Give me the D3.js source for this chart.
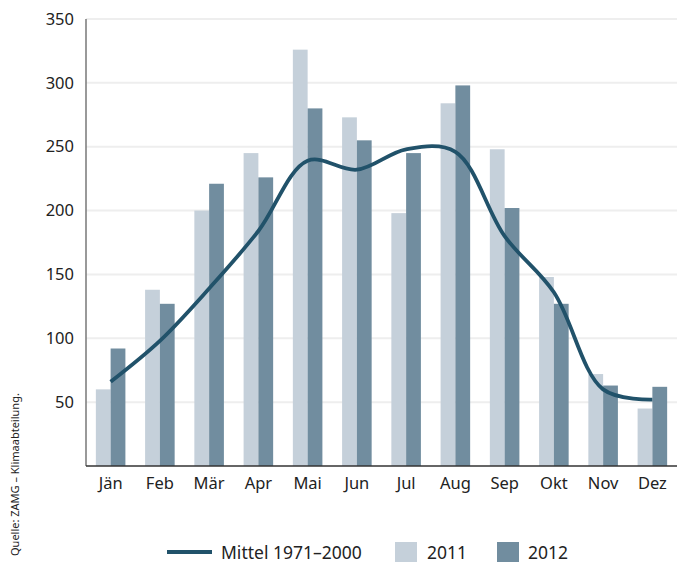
<!DOCTYPE html>
<html><head><meta charset="utf-8">
<script src="https://cdn.jsdelivr.net/npm/d3@7"></script>
<style>body{margin:0;background:#fff}svg{display:block}text{font-family:"Noto Sans",sans-serif;fill:#222}</style>
</head><body>
<script>
const months = ["Jän","Feb","Mär","Apr","Mai","Jun","Jul","Aug","Sep","Okt","Nov","Dez"];
const v2011 = [60,138,200,245,326,273,198,284,248,148,72,45];
const v2012 = [92,127,221,226,280,255,245,298,202,127,63,62];
const mittel = [66,98,139,184,239,232,248,246,180,136,60,52];
const yTicks = [50,100,150,200,250,300,350];
const legendLabels = ["Mittel 1971–2000","2011","2012"];
const source = "Quelle: ZAMG – Klimaabteilung.";

const W=677,H=562;
const svg=d3.select("body").append("svg").attr("width",W).attr("height",H);
const x=d3.scaleBand().domain(months).range([86,677]).paddingInner(0.4).paddingOuter(0.2);
const xs=d3.scaleBand().domain(["2011","2012"]).range([0,x.bandwidth()]);
const y=d3.scaleLinear().domain([0,350]).range([466,19]);

// grid
svg.append("g").selectAll("line").data(yTicks).join("line")
  .attr("x1",86).attr("x2",677).attr("y1",d=>y(d)).attr("y2",d=>y(d))
  .attr("stroke","#eeeeee").attr("stroke-width",2);

// bars
const g=svg.append("g");
g.selectAll(".b11").data(months).join("rect")
  .attr("x",d=>x(d)+xs("2011")).attr("width",xs.bandwidth())
  .attr("y",(d,i)=>y(v2011[i])).attr("height",(d,i)=>y(0)-y(v2011[i])).attr("fill","#c5d0da");
g.selectAll(".b12").data(months).join("rect")
  .attr("x",d=>x(d)+xs("2012")).attr("width",xs.bandwidth())
  .attr("y",(d,i)=>y(v2012[i])).attr("height",(d,i)=>y(0)-y(v2012[i])).attr("fill","#718d9f");

// line
const line=d3.line().x((d,i)=>x(months[i])+x.bandwidth()/2).y(d=>y(d)).curve(d3.curveCatmullRom.alpha(0.5));
svg.append("path").datum(mittel).attr("d",line).attr("fill","none").attr("stroke","#21526a").attr("stroke-width",3.8);

// axes
const ya=svg.append("g").attr("transform","translate(86,0)").call(d3.axisLeft(y).tickValues(yTicks).tickSize(0).tickPadding(12));
ya.select(".domain").remove();
ya.selectAll("text").style("font-size","16.5px").style("font-family","'Noto Sans',sans-serif").attr("fill","#222");
svg.append("line").attr("x1",86).attr("x2",86).attr("y1",19).attr("y2",466).attr("stroke","#777").attr("stroke-width",1.5);

const xa=svg.append("g").attr("transform","translate(0,466)").call(d3.axisBottom(x).tickSize(0).tickPadding(11));
xa.select(".domain").remove();
xa.selectAll("text").style("font-size","16.5px").style("font-family","'Noto Sans',sans-serif").attr("fill","#222");
svg.append("line").attr("x1",86).attr("x2",677).attr("y1",466).attr("y2",466).attr("stroke","#333").attr("stroke-width",1.5);

// source
svg.append("text").attr("transform","translate(19,556) rotate(-90)").style("font-size","11px").text(source);

// legend
const ly=552;
svg.append("line").attr("x1",167).attr("x2",212).attr("y1",ly).attr("y2",ly).attr("stroke","#21526a").attr("stroke-width",4);
svg.append("text").attr("x",221).attr("y",ly+6.5).style("font-size","17.5px").text(legendLabels[0]);
svg.append("rect").attr("x",395).attr("y",ly-10).attr("width",22).attr("height",22).attr("fill","#c5d0da");
svg.append("text").attr("x",427).attr("y",ly+6.5).style("font-size","17.5px").text(legendLabels[1]);
svg.append("rect").attr("x",497).attr("y",ly-10).attr("width",22).attr("height",22).attr("fill","#718d9f");
svg.append("text").attr("x",528).attr("y",ly+6.5).style("font-size","17.5px").text(legendLabels[2]);
</script>
</body></html>
